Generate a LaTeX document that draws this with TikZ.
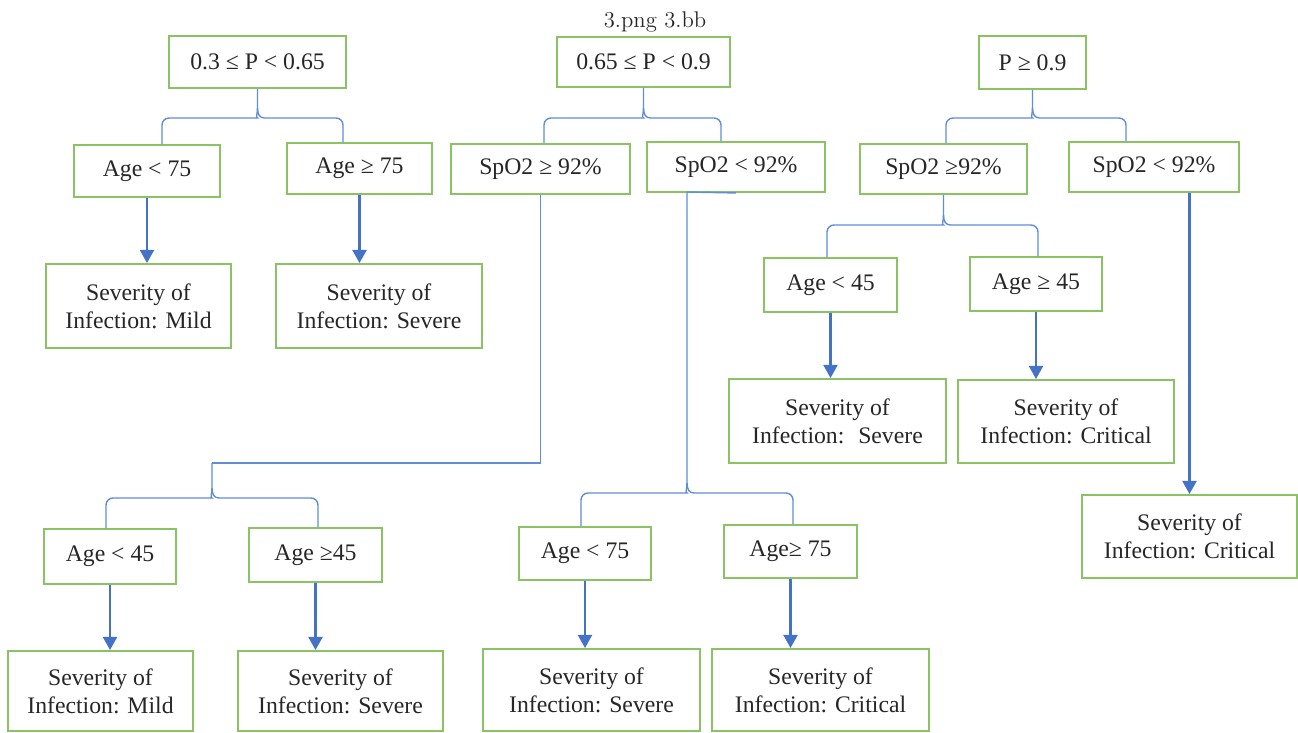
\documentclass[tikz,border=0pt]{standalone}
\usepackage{fontspec}
\newfontfamily\timesfont{Liberation Serif}
\usetikzlibrary{arrows.meta,calc}

\definecolor{boxgreen}{RGB}{138,194,100}
\definecolor{linkblue}{RGB}{68,114,196}
\definecolor{braceblue}{RGB}{96,142,214}

% curly split: stem top, left child, right child, left x, right x, brace y
\newcommand{\splitbrace}[6]{%
  \coordinate (bl) at (#4,#6);
  \coordinate (br) at (#5,#6);
  \coordinate (bm) at (#1 |- bl);
  \draw[brace] (#2.north -| bl) [rounded corners=4pt] -- (bl) -- ($(bm)+(-7,0)$) [sharp corners]
    .. controls ($(bm)+(-2,0)$) and ($(bm)+(0,-4)$) .. ($(bm)+(0,-10)$) -- (#1);
  \draw[brace] ($(bm)+(0,-10)$) .. controls ($(bm)+(0,-4)$) and ($(bm)+(2,0)$) .. ($(bm)+(7,0)$)
    [rounded corners=4pt] -- (br) -- (#3.north -| br);
}

\begin{document}
\begin{tikzpicture}[
  x=0.02cm, y=-0.02cm,
  font={\timesfont\fontsize{13.5}{16}\selectfont},
  cond/.style = {
    rectangle, draw=boxgreen, line width=1.1pt, text=black!85,
    inner sep=0pt, align=center,
  },
  sz/.style 2 args = {minimum width=#1*0.02cm, minimum height=#2*0.02cm},
  arrow/.style = {-{Triangle[length=7.5pt,width=8pt]}, line width=1.3pt, draw=linkblue},
  brace/.style = {line width=0.8pt, draw=braceblue},
]
  \useasboundingbox (0,0) rectangle (1298,733);

  \node[anchor=base, text=black!85, font={\rmfamily\fontsize{12.9}{15}\selectfont}] (fname) at (655,28) {3.png 3.bb};

  % probability bands
  \node[cond, sz={177}{52}] (lo)  at (257.5,62) {0.3 ≤ P < 0.65};
  \node[cond, sz={173}{50}] (mid) at (643.5,62) {0.65 ≤ P < 0.9};
  \node[cond, sz={107}{53}] (hi)  at (1032.5,62.5) {P ≥ 0.9};

  % second level
  \node[cond, sz={146}{52}] (lo1)  at (147,171)   {Age < 75};
  \node[cond, sz={145}{51}] (lo2)  at (359.5,168.5) {Age ≥ 75};
  \node[cond, sz={179}{50}] (mid1) at (540.5,169) {SpO2 ≥ 92\%};
  \node[cond, sz={178}{50}] (mid2) at (736,167)   {SpO2 < 92\%};
  \node[cond, sz={167}{50}] (hi1)  at (943.5,169) {SpO2 ≥92\%};
  \node[cond, sz={170}{50}] (hi2)  at (1154,167)  {SpO2 < 92\%};

  % outcomes of the low band
  \node[cond, sz={185}{84}] (lo1r) at (138.5,306) {Severity of\\Infection: Mild};
  \node[cond, sz={206}{84}] (lo2r) at (379,306)   {Severity of\\Infection: Severe};

  % high band, SpO2 >= 92%
  \node[cond, sz={133}{54}] (hi1a)  at (830.5,285) {Age < 45};
  \node[cond, sz={132}{54}] (hi1b)  at (1036,284)  {Age ≥ 45};
  \node[cond, sz={217}{84}] (hi1ar) at (837.5,421) {Severity of\\Infection:~ Severe};
  \node[cond, sz={216}{83}] (hi1br) at (1066,421.5) {Severity of\\Infection: Critical};
  \node[cond, sz={215}{83}] (hi2r)  at (1189.5,536.5) {Severity of\\Infection: Critical};

  % mid band, SpO2 >= 92%
  \node[cond, sz={132}{55}] (mid1a)  at (110,556.5) {Age < 45};
  \node[cond, sz={133}{54}] (mid1b)  at (315.5,555) {Age ≥45};
  \node[cond, sz={185}{80}] (mid1ar) at (100.5,691) {Severity of\\Infection: Mild};
  \node[cond, sz={205}{80}] (mid1br) at (340.5,691) {Severity of\\Infection: Severe};

  % mid band, SpO2 < 92%
  \node[cond, sz={132}{53}] (mid2a)  at (585,553.5) {Age < 75};
  \node[cond, sz={133}{53}] (mid2b)  at (790.5,551.5) {Age≥ 75};
  \node[cond, sz={217}{82}] (mid2ar) at (591.5,690) {Severity of\\Infection: Severe};
  \node[cond, sz={217}{82}] (mid2br) at (820.5,690) {Severity of\\Infection: Critical};

  % splits
  \splitbrace{lo.south}{lo1}{lo2}{162}{343}{118}
  \splitbrace{mid.south}{mid1}{mid2}{544}{721}{118}
  \splitbrace{hi.south}{hi1}{hi2}{946}{1126}{118}
  \splitbrace{hi1.south}{hi1a}{hi1b}{827}{1038}{225}

  \coordinate (dtop) at (212,463);
  \draw[brace] (mid1.south) -- (mid1.south |- dtop) -- (dtop);
  \splitbrace{dtop}{mid1a}{mid1b}{106}{318}{498}

  \coordinate (etop) at (687,192);
  \draw[brace] (mid2.south) -- (etop);
  \splitbrace{etop}{mid2a}{mid2b}{581}{793}{493}

  % outcome arrows
  \draw[arrow] (lo1.south) -- (lo1.south |- lo1r.north);
  \draw[arrow] (lo2.south) -- (lo2.south |- lo2r.north);
  \draw[arrow] (hi1a.south) -- (hi1a.south |- hi1ar.north);
  \draw[arrow] (hi1b.south) -- (hi1b.south |- hi1br.north);
  \draw[arrow] (hi2r.north |- hi2.south) -- (hi2r.north);
  \draw[arrow] (mid1a.south) -- (mid1a.south |- mid1ar.north);
  \draw[arrow] (mid1b.south) -- (mid1b.south |- mid1br.north);
  \draw[arrow] (mid2a.south) -- (mid2a.south |- mid2ar.north);
  \draw[arrow] (mid2b.south) -- (mid2b.south |- mid2br.north);
\end{tikzpicture}
\end{document}
